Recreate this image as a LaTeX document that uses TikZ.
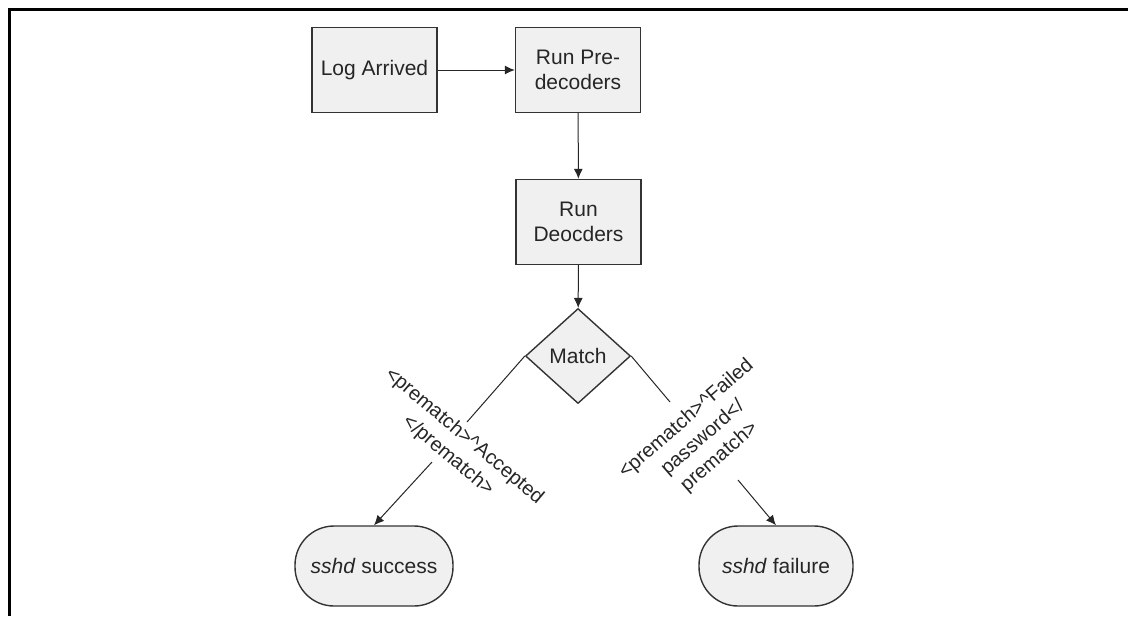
\documentclass[tikz,border=0pt]{standalone}
\usepackage{fontspec}
\setmainfont{Liberation Sans}
\usetikzlibrary{shapes.geometric}
\usetikzlibrary{arrows.meta}

\begin{document}
\begin{tikzpicture}[x=0.5pt,y=-0.5pt,
  every node/.style={font=\fontsize{10.5}{12.6}\selectfont,align=center,text=black!85},
  stepbox/.style={draw=black!80,fill=black!6,line width=0.7pt,minimum width=62.5pt,minimum height=42.5pt,inner sep=1pt},
  endbox/.style={draw=black!80,fill=black!6,line width=0.7pt,rounded corners=19.5pt,minimum height=40pt,inner sep=1pt},
  tag/.style={font=\fontsize{10}{12.6}\selectfont,inner sep=1pt},
  link/.style={draw=black!85,line width=0.5pt},
  flow/.style={link,-{Latex[length=5pt,width=4.5pt]}}]
\useasboundingbox (0,0) rectangle (1128,616);
\draw[line width=1.5pt] (9.5,616) -- (9.5,9) -- (1128,9);

\node[stepbox] (log) at (374.5,70) {Log Arrived};
\node[stepbox] (pre) at (578,70) {Run Pre-\\decoders};
\node[stepbox] (dec) at (578.5,222) {Run\\Deocders};
\node[diamond,draw=black!80,fill=black!6,line width=0.7pt,minimum width=52.5pt,minimum height=47.5pt,inner sep=1pt] (match) at (578,356) {Match};
\node[endbox,minimum width=79pt] (ok) at (374,566) {\textit{sshd} success};
\node[endbox,minimum width=77pt] (bad) at (776,566) {\textit{sshd} failure};

\node[tag,rotate=-40] (acc) at (456,446) {<prematch>\textasciicircum Accepted\\</prematch>};
\node[tag,rotate=41] (fail) at (703,438) {<prematch>\textasciicircum Failed\\password</\\prematch>};
\coordinate (a1) at (467,422);
\coordinate (a2) at (432,462);
\coordinate (f1) at (670,402);
\coordinate (f2) at (738,480);

\draw[flow] (log) -- (pre);
\draw[flow] (pre) -- (dec);
\draw[flow] (dec) -- (match);
\draw[link] (match.west) -- (a1);
\draw[flow] (a2) -- (ok.north);
\draw[link] (match.east) -- (f1);
\draw[flow] (f2) -- (bad.north);
\end{tikzpicture}
\end{document}
